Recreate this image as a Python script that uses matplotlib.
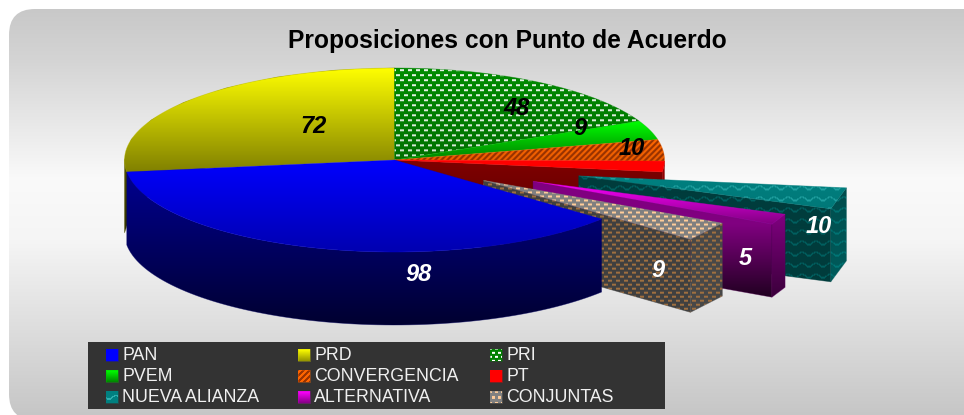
import numpy as np
import matplotlib
matplotlib.use('Agg')
import matplotlib.pyplot as plt
from matplotlib.patches import Polygon, FancyBboxPatch, Rectangle

W, H = 964, 415

# data
partidos = ['PRI', 'PVEM', 'CONVERGENCIA', 'PT', 'NUEVA ALIANZA', 'ALTERNATIVA', 'CONJUNTAS', 'PAN', 'PRD']
valores = [48, 9, 10, 5, 10, 5, 9, 98, 72]
explode = [0, 0, 0, 0, 190, 152, 107, 0, 0]
legend_order = ['PAN', 'PRD', 'PRI', 'PVEM', 'CONVERGENCIA', 'PT', 'NUEVA ALIANZA', 'ALTERNATIVA', 'CONJUNTAS']
titulo = 'Proposiciones con Punto de Acuerdo'

# pie geometry in pixels
cx, cy = 394.5, 160
rx, ry = 270, 92
depth = 73

fig = plt.figure(figsize=(W / 100, H / 100), dpi=100)
ax = fig.add_axes([0, 0, 1, 1])
ax.axis('off')

yy, xx = np.mgrid[0:H, 0:W]


def hexrgb(c):
    return np.array(matplotlib.colors.to_rgb(c))


# textures, True where the foreground colour goes
def tex_dots(px=8, py=5, w=4, h=2):
    row = yy // py
    return ((xx + (row % 2) * px // 2) % px < w) & (yy % py < h)


def tex_stripes():
    return (xx + yy) % 6 < 3


def tex_waves():
    return (yy + 2.0 * np.sin(xx * 2 * np.pi / 14)) % 11 < 1.6


def tex_big_dots():
    return tex_dots(8, 4, 4, 2)


def fill(verts, c0, c1, tex=None, f0=None, f1=None, y0=None, y1=None, z=2):
    # polygon filled with a vertical gradient and maybe a texture
    verts = np.array(verts)
    y0 = verts[:, 1].min() if y0 is None else y0
    y1 = verts[:, 1].max() if y1 is None else y1
    t = np.clip((yy - y0) / max(y1 - y0, 1), 0, 1)[..., None]
    img = hexrgb(c0) * (1 - t) + hexrgb(c1) * t
    if tex is not None:
        fg = hexrgb(f0) * (1 - t) + hexrgb(f1) * t
        img = np.where(tex[..., None], fg, img)
    im = ax.imshow(img, extent=(0, W, H, 0), interpolation='bilinear', aspect='auto', zorder=z)
    patch = Polygon(verts, closed=True, transform=ax.transData, fc='none', ec='none')
    ax.add_patch(patch)
    im.set_clip_path(patch)
    # soft edge so the clip is not so jagged
    edge = (hexrgb(c0) + hexrgb(c1)) / 2
    ax.add_patch(Polygon(verts, closed=True, fc='none', ec=edge, lw=0.5, alpha=0.5, zorder=z))


def pt(t, ox=0, oy=0):
    a = np.radians(t)
    return np.array([cx + ox + rx * np.cos(a), cy + oy - ry * np.sin(a)])


def arc(t0, t1, n=60, ox=0, oy=0):
    return [pt(t, ox, oy) for t in np.linspace(t0, t1, n)]


def wall(points):
    points = list(points)
    return points + [p + np.array([0, depth]) for p in points[::-1]]


# background panel
bg = np.interp(yy[:, 0], [9, 60, 180, 240, 415], [200, 212, 250, 245, 198])[:, None, None] / 255
bg_img = np.broadcast_to(bg, (H, W, 3))
panel = FancyBboxPatch((9, 9), 1000, 411, boxstyle='round,pad=0,rounding_size=26', fc='none', ec='none', zorder=1)
ax.add_patch(panel)
im = ax.imshow(bg_img, extent=(0, W, H, 0), aspect='auto', zorder=1)
im.set_clip_path(panel)

# angles from the values, clockwise from the top
angulos = {}
a = 90.0
for nombre, v in zip(partidos, valores):
    angulos[nombre] = (a, a - v / sum(valores) * 360)
    a = angulos[nombre][1]
desp = dict(zip(partidos, explode))


def top_poly(nombre, n=60):
    t0, t1 = angulos[nombre]
    mid = np.radians((t0 + t1) / 2)
    ox, oy = desp[nombre] * np.cos(mid), -desp[nombre] * np.sin(mid) * ry / rx
    tip = np.array([cx + ox, cy + oy])
    return tip, arc(t0, t1, n, ox, oy)


# back of the pie: olive rim on the left, red cut wall on the right
t0, t1 = angulos['PRD']
fill(wall(arc(180, 360 + t1, 8)), '#808000', '#303000', z=2)
tip, a_pt = top_poly('PT', 8)
fill(wall([tip, a_pt[-1]]), '#800000', '#500000', z=2)
fill(wall(a_pt), '#a00000', '#500000', z=2)

# flat slices on top
tip, a_ = top_poly('PRD')
fill([tip] + a_, '#ffff00', '#808000', z=3)
tip, a_ = top_poly('PRI')
fill([tip] + a_, '#008c00', '#007000', tex_dots(), '#e8f4e8', '#d0e4d0', z=3)
tip, a_ = top_poly('PVEM')
fill([tip] + a_, '#00ff00', '#008000', z=3)
tip, a_ = top_poly('CONVERGENCIA')
fill([tip] + a_, '#ff6600', '#e85c00', tex_stripes(), '#993300', '#993300', z=3)
tip, a_ = top_poly('PT')
fill([tip] + a_, '#ff0000', '#ff0000', z=3)

# exploded slices, far one first
estilos = {
    'NUEVA ALIANZA': dict(top=('#008080', '#007878'), ftop=('#20a0a0', '#20a0a0'), tex=tex_waves(),
                          cut=('#003c3c', '#003c3c'), fcut=('#006060', '#006060'),
                          side=('#004c4c', '#005c5c'), fside=('#007070', '#007878')),
    'ALTERNATIVA': dict(top=('#ff00ff', '#800080'), ftop=None, tex=None,
                        cut=('#800080', '#200020'), fcut=None,
                        side=('#800080', '#3a003a'), fside=None),
    'CONJUNTAS': dict(top=('#808080', '#808080'), ftop=('#ffcc99', '#ffcc99'), tex=tex_big_dots(),
                      cut=('#404040', '#404040'), fcut=('#a07040', '#a07040'),
                      side=('#484848', '#484848'), fside=('#a07040', '#a07040')),
}
z = 4
for nombre, est in estilos.items():
    tip, a_ = top_poly(nombre, 2)
    ft = est['ftop'] or (None, None)
    fc = est['fcut'] or (None, None)
    fs = est['fside'] or (None, None)
    fill(wall([tip, a_[-1]]), est['cut'][0], est['cut'][1], est['tex'], fc[0], fc[1],
         y0=a_[-1][1], y1=a_[-1][1] + depth, z=z)
    fill(wall(a_), est['side'][0], est['side'][1], est['tex'], fs[0], fs[1], z=z)
    fill([tip] + a_, est['top'][0], est['top'][1], est['tex'], ft[0], ft[1], z=z)
    z += 1

# PAN in front of everything
t0, t1 = angulos['PAN']
fill(wall(arc(t0, t1, 80)), '#000090', '#000030', z=8)
tip, a_ = top_poly('PAN', 100)
fill([tip] + a_, '#0000ff', '#0000b0', z=9)

# labels, same order as partidos with no label for PT
etiquetas = [(517, 108, 'black'), (580, 128, 'black'), (632, 148, 'black'), None,
             (819, 226, 'white'), (745, 258, 'white'), (658, 270, 'white'),
             (419, 274, 'white'), (313, 126, 'black')]
for v, e in zip(valores, etiquetas):
    if e is None:
        continue
    ax.text(e[0], e[1], str(v), color=e[2], ha='center', va='center', fontsize=17,
            fontweight='bold', fontstyle='italic', family='Liberation Sans', zorder=12)

ax.text(507, 41, titulo, ha='center', va='center', fontsize=17.75, fontweight='bold',
        family='Liberation Sans', color='black', zorder=12)

# legend
ax.add_patch(Rectangle((88, 342), 577, 67, fc='#333333', ec='none', zorder=10))
swatch = {
    'PAN': ('#0000ff', '#0000ff', None, None),
    'PRD': ('#ffff00', '#909000', None, None),
    'PRI': ('#008000', '#008000', tex_dots(6, 4, 3, 2), '#ffffff'),
    'PVEM': ('#00ff00', '#008000', None, None),
    'CONVERGENCIA': ('#ff6600', '#ff6600', tex_stripes(), '#993300'),
    'PT': ('#ff0000', '#ff0000', None, None),
    'NUEVA ALIANZA': ('#008080', '#008080', tex_waves(), '#30b0b0'),
    'ALTERNATIVA': ('#ff00ff', '#800080', None, None),
    'CONJUNTAS': ('#808080', '#808080', tex_dots(6, 6, 3, 3), '#ffcc99'),
}
col_x = [106, 298, 490]
row_y = [355, 376, 397]
for i, nombre in enumerate(legend_order):
    x = col_x[i % 3]
    y = row_y[i // 3]
    c0, c1, tex, fg = swatch[nombre]
    fill([(x, y - 6), (x + 12, y - 6), (x + 12, y + 6), (x, y + 6)], c0, c1, tex, fg, fg, z=11)
    ax.text(x + 16, y + 0.8, nombre, color='#f0f0f0', ha='left', va='center', fontsize=12.75,
            family='Liberation Sans', zorder=12)

ax.set_xlim(0, W)
ax.set_ylim(H, 0)
fig.savefig('out.png', dpi=100, facecolor='white')
